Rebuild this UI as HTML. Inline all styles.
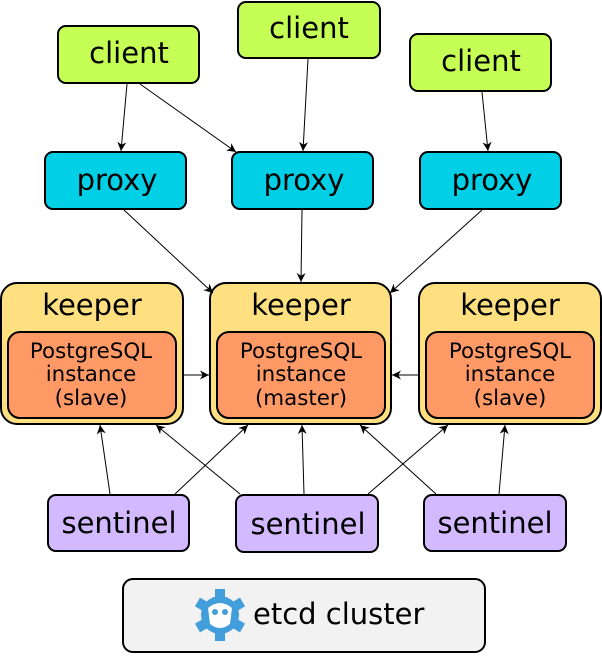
<!DOCTYPE html>
<html><head><meta charset="utf-8"><style>html,body{margin:0;padding:0;background:#fff}svg{display:block}</style></head>
<body>
<svg width="602" height="660" viewBox="0 0 602 660" xmlns="http://www.w3.org/2000/svg" font-family="'DejaVu Sans','Liberation Sans',sans-serif">
<defs><marker id="a" viewBox="0 0 10 10" refX="10" refY="5" markerWidth="9" markerHeight="9" orient="auto" markerUnits="userSpaceOnUse"><path d="M0,0 L10,5 L0,10 L3,5 Z" fill="#000"/></marker></defs>
<g stroke="#000" stroke-width="2">
<rect x="58" y="26" width="141" height="57" rx="8" fill="#c5ff55"/>
<rect x="238" y="2" width="142" height="56" rx="8" fill="#c5ff55"/>
<rect x="410" y="34" width="141" height="57" rx="8" fill="#c5ff55"/>
<rect x="45" y="152" width="141" height="57" rx="8" fill="#00cfe6"/>
<rect x="232" y="152" width="141" height="57" rx="8" fill="#00cfe6"/>
<rect x="420" y="152" width="141" height="57" rx="8" fill="#00cfe6"/>
<rect x="1" y="283" width="182" height="141" rx="16" fill="#ffe080"/>
<rect x="210" y="283" width="181" height="141" rx="16" fill="#ffe080"/>
<rect x="419" y="283" width="182" height="141" rx="16" fill="#ffe080"/>
<rect x="8" y="332" width="168" height="86" rx="12" fill="#ff9966"/>
<rect x="217" y="332" width="168" height="86" rx="12" fill="#ff9966"/>
<rect x="426" y="332" width="168" height="86" rx="12" fill="#ff9966"/>
<rect x="48" y="495" width="141" height="56" rx="8" fill="#d3b9ff"/>
<rect x="236" y="495" width="142" height="57" rx="8" fill="#d3b9ff"/>
<rect x="424" y="495" width="142" height="56" rx="8" fill="#d3b9ff"/>
<rect x="123" y="579" width="362" height="73" rx="10" fill="#f2f2f2"/>
</g>
<g stroke="#000" stroke-width="1" marker-end="url(#a)" fill="none">
<line x1="127" y1="84" x2="121" y2="151"/>
<line x1="140" y1="84" x2="236" y2="152"/>
<line x1="308" y1="59" x2="303" y2="151"/>
<line x1="482" y1="92" x2="488" y2="151"/>
<line x1="124" y1="210" x2="213" y2="293"/>
<line x1="302" y1="210" x2="301" y2="282"/>
<line x1="482" y1="210" x2="390" y2="293"/>
<line x1="183" y1="375" x2="209" y2="375"/>
<line x1="419" y1="375" x2="392" y2="375"/>
<line x1="110" y1="494" x2="100" y2="425"/>
<line x1="175" y1="494" x2="248" y2="425"/>
<line x1="240" y1="494" x2="156" y2="425"/>
<line x1="304" y1="494" x2="302" y2="425"/>
<line x1="368" y1="494" x2="448" y2="425"/>
<line x1="436" y1="494" x2="360" y2="425"/>
<line x1="499" y1="494" x2="505" y2="425"/>
</g>
<g font-size="29" text-anchor="middle" fill="#000">
<text x="129" y="63">client</text>
<text x="309" y="38">client</text>
<text x="481" y="71">client</text>
<text x="117" y="190">proxy</text>
<text x="304" y="190">proxy</text>
<text x="492" y="190">proxy</text>
<text x="92" y="315">keeper</text>
<text x="301" y="315">keeper</text>
<text x="510" y="315">keeper</text>
<text x="119" y="533">sentinel</text>
<text x="308" y="534">sentinel</text>
<text x="495" y="533">sentinel</text>
<text x="253" y="624" text-anchor="start">etcd cluster</text>
</g>
<g font-size="21.4" text-anchor="middle" fill="#000">
<text x="91" y="358">PostgreSQL</text><text x="91" y="381">instance</text><text x="91" y="405">(slave)</text>
<text x="301" y="358">PostgreSQL</text><text x="301" y="381">instance</text><text x="301" y="405">(master)</text>
<text x="510" y="358">PostgreSQL</text><text x="510" y="381">instance</text><text x="510" y="405">(slave)</text>
</g>
<g fill="#419eda">
<circle cx="220" cy="615" r="19"/>
<g transform="translate(220 615)">
<rect x="-5" y="-26" width="10" height="10"/>
<rect x="-5" y="-26" width="10" height="10" transform="rotate(60)"/>
<rect x="-5" y="-26" width="10" height="10" transform="rotate(120)"/>
<rect x="-5" y="-26" width="10" height="10" transform="rotate(180)"/>
<rect x="-5" y="-26" width="10" height="10" transform="rotate(240)"/>
<rect x="-5" y="-26" width="10" height="10" transform="rotate(300)"/>
</g>
</g>
<path d="M208,608 Q220,598 232,608 L230,624 Q220,632 210,624 Z" fill="#fff"/>
<circle cx="215" cy="612" r="3" fill="#419eda"/><circle cx="225" cy="612" r="3" fill="#419eda"/>
</svg>
</body></html>
